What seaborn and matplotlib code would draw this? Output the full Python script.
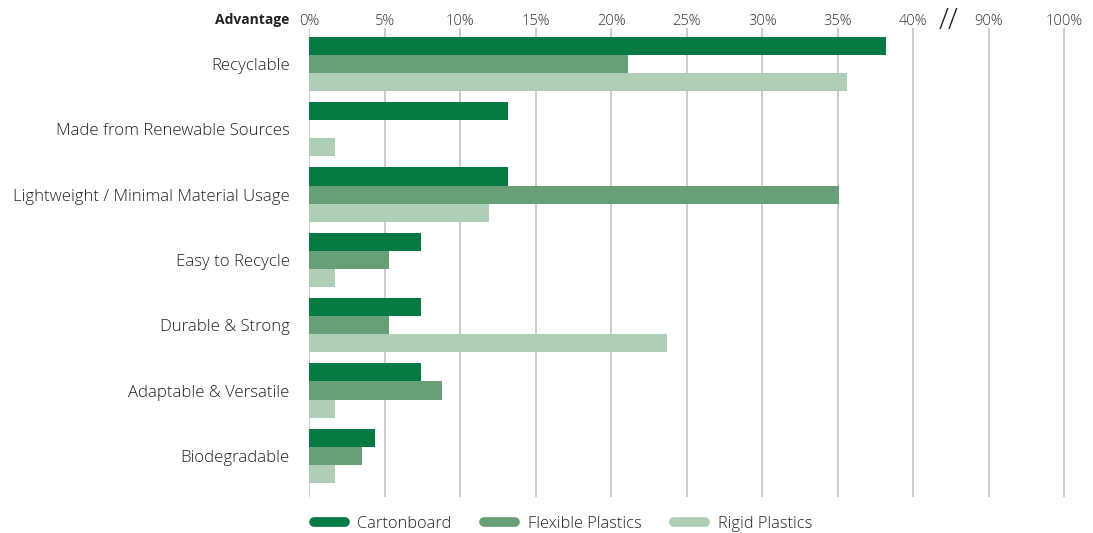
import numpy as np
import pandas as pd
import matplotlib
matplotlib.use("Agg")
import matplotlib.pyplot as plt
from matplotlib.lines import Line2D
import seaborn as sns

advantages = ["Recyclable", "Made from Renewable Sources", "Lightweight / Minimal Material Usage",
              "Easy to Recycle", "Durable & Strong", "Adaptable & Versatile", "Biodegradable"]
cartonboard = [38.2, 13.2, 13.2, 7.4, 7.4, 7.4, 4.4]
flexible = [21.1, 0.0, 35.1, 5.3, 5.3, 8.8, 3.5]
rigid = [35.6, 1.7, 11.9, 1.7, 23.7, 1.7, 1.7]
materials = ["Cartonboard", "Flexible Plastics", "Rigid Plastics"]
colors = ["#057a43", "#67a077", "#afceb6"]

# axis is broken after 40%: 90% and 100% sit on the next two slots
tick_pos = [0, 5, 10, 15, 20, 25, 30, 35, 40, 45, 50]
tick_labels = ["0%", "5%", "10%", "15%", "20%", "25%", "30%", "35%", "40%", "90%", "100%"]

df = pd.DataFrame({
    "advantage": advantages * 3,
    "material": np.repeat(materials, len(advantages)),
    "value": cartonboard + flexible + rigid,
})

sns.set_style("white")
plt.rcParams["font.family"] = ["Open Sans", "DejaVu Sans"]

fig = plt.figure(figsize=(10.93, 5.33), dpi=100)
ax = fig.add_axes([309 / 1093, 1 - 497 / 533, (1066 - 309) / 1093, (497 - 28) / 533])

for x in tick_pos:
    ax.axvline(x, color="#c8c8c8", lw=1.3, zorder=0)

sns.barplot(data=df, x="value", y="advantage", hue="material", orient="h",
            palette=colors, width=0.83, saturation=1, linewidth=0, ax=ax,
            legend=False, zorder=2)

ax.set_xlim(0, 50.1)
ax.set_ylim(6.63, -0.55)
ax.set_xlabel("")
ax.set_ylabel("")
ax.xaxis.tick_top()
ax.set_xticks(tick_pos)
ax.set_xticklabels(tick_labels, fontsize=10.5, color="#333333", fontweight="light")
ax.tick_params(axis="x", length=0, pad=-0.5)
ax.tick_params(axis="y", length=0, pad=14, labelsize=12.1, labelcolor="#222222")
for lab in ax.get_yticklabels():
    lab.set_fontweight("light")
for s in ax.spines.values():
    s.set_visible(False)

ax.text(-1.3, -0.67, "Advantage", ha="right", va="center",
        fontsize=10, fontweight="bold", color="#222222")
ax.text(42.3, -0.42, "//", ha="center", va="bottom", fontsize=21, color="#222222",
        fontweight="light", clip_on=False)

handles = [Line2D([0], [0], color=c, lw=7, solid_capstyle="round") for c in colors]
fig.legend(handles, materials, loc="lower left", bbox_to_anchor=(299 / 1093, -0.025),
           ncol=3, frameon=False, handlelength=1.9, columnspacing=2.0,
           handletextpad=0.75, labelcolor="#222222",
           prop={"size": 11.8, "weight": "light"})

fig.savefig("out.png", dpi=100)
